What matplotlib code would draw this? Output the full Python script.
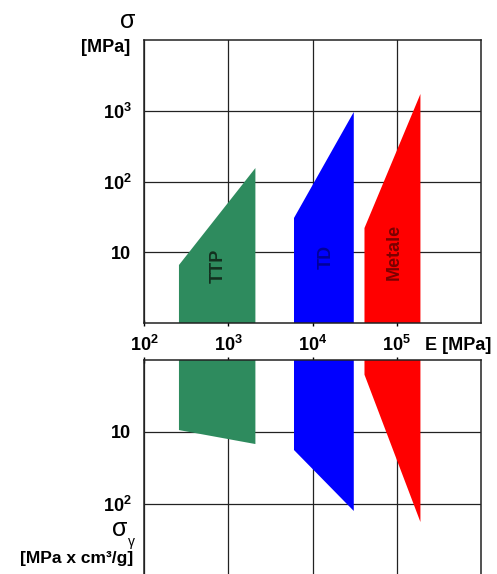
import matplotlib
matplotlib.use("Agg")
import matplotlib.pyplot as plt
from matplotlib.ticker import NullLocator

plt.rcParams['font.family'] = ['Liberation Sans', 'DejaVu Sans']
plt.rcParams['font.weight'] = 'bold'
plt.rcParams['mathtext.fontset'] = 'custom'
plt.rcParams['mathtext.rm'] = 'Liberation Sans:bold'
plt.rcParams['mathtext.bf'] = 'Liberation Sans:bold'
plt.rcParams['mathtext.it'] = 'Liberation Sans:bold:italic'

# material fields: E range, strength at left/right edge, specific strength at left/right edge
materials = ['TTP', 'TD', 'Metale']
fill_colors = ['#2e8b5e', '#0000ff', '#ff0000']
text_colors = ['#13301f', '#00009a', '#7a0000']
E_min = [260, 6030, 41400]
E_max = [2100, 30900, 191000]
sigma_left = [6.6, 30.5, 22]
sigma_right = [155, 960, 1725]
spec_left = [9.4, 17.8, 1.6]
spec_right = [14.7, 125, 178]
label_E = [770, 14500, 94000]
label_sigma = [6.4, 8.6, 10.1]

x_ticks = [1e2, 1e3, 1e4, 1e5]
x_labels = ['$10^{2}$', '$10^{3}$', '$10^{4}$', '$10^{5}$']
top_yticks = [10, 100, 1000]
top_ylabels = ['10', '$10^{2}$', '$10^{3}$']
bot_yticks = [10, 100]
bot_ylabels = ['10', '$10^{2}$']

W, H = 497, 574
fig = plt.figure(figsize=(W / 100, H / 100), dpi=100)
ax_top = fig.add_axes([144 / W, 1 - 323 / H, 337 / W, 283 / H])
ax_bot = fig.add_axes([144 / W, 0, 337 / W, 1 - 360 / H])

grid_kw = dict(color='#222222', lw=0.9)

for ax in (ax_top, ax_bot):
    ax.set_xscale('log')
    ax.set_yscale('log')
    ax.set_xlim(1e2, 1e6)
    ax.xaxis.set_minor_locator(NullLocator())
    ax.yaxis.set_minor_locator(NullLocator())
    ax.set_axisbelow(True)
    ax.grid(True, **grid_kw)
    for sp in ax.spines.values():
        sp.set_linewidth(1.1)
        sp.set_color('#222222')

ax_top.set_ylim(1, 1e4)
ax_bot.set_ylim(10 ** (214 / 72), 1)
ax_bot.spines['bottom'].set_visible(False)

ax_top.set_xticks(x_ticks)
ax_top.set_xticklabels(x_labels, fontsize=13)
ax_top.tick_params(axis='x', direction='inout', length=5, pad=6, width=1)
ax_top.set_yticks(top_yticks)
ax_top.set_yticklabels(top_ylabels, fontsize=13)
ax_top.tick_params(axis='y', length=0, pad=9)

ax_bot.xaxis.tick_top()
ax_bot.set_xticks(x_ticks)
ax_bot.tick_params(axis='x', direction='inout', length=5, width=1, labeltop=False, labelbottom=False)
ax_bot.set_yticks(bot_yticks)
ax_bot.set_yticklabels(bot_ylabels, fontsize=13)
ax_bot.tick_params(axis='y', length=0, pad=9)

for i, name in enumerate(materials):
    ax_top.fill([E_min[i], E_min[i], E_max[i], E_max[i]],
                [1, sigma_left[i], sigma_right[i], 1],
                color=fill_colors[i], lw=0, zorder=2)
    ax_bot.fill([E_min[i], E_min[i], E_max[i], E_max[i]],
                [1, spec_left[i], spec_right[i], 1],
                color=fill_colors[i], lw=0, zorder=2)
    ax_top.text(label_E[i], label_sigma[i], name, rotation=90, ha='center', va='center',
                fontsize=13, color=text_colors[i], zorder=3)

fig.text(458 / W, 1 - 345 / H, 'E [MPa]', ha='center', va='center', fontsize=13)
fig.text(128 / W, 1 - 21 / H, 'σ', ha='center', va='center', fontsize=18, fontweight='normal')
fig.text(106 / W, 1 - 48 / H, '[MPa]', ha='center', va='center', fontsize=13)
fig.text(120 / W, 1 - 529 / H, 'σ', ha='center', va='center', fontsize=18, fontweight='normal')
fig.text(131 / W, 1 - 542 / H, 'γ', ha='center', va='center', fontsize=10, fontweight='normal')
fig.text(77 / W, 1 - 558 / H, '[MPa x cm³/g]', ha='center', va='center', fontsize=12.5)

fig.savefig('out.png', dpi=100)
